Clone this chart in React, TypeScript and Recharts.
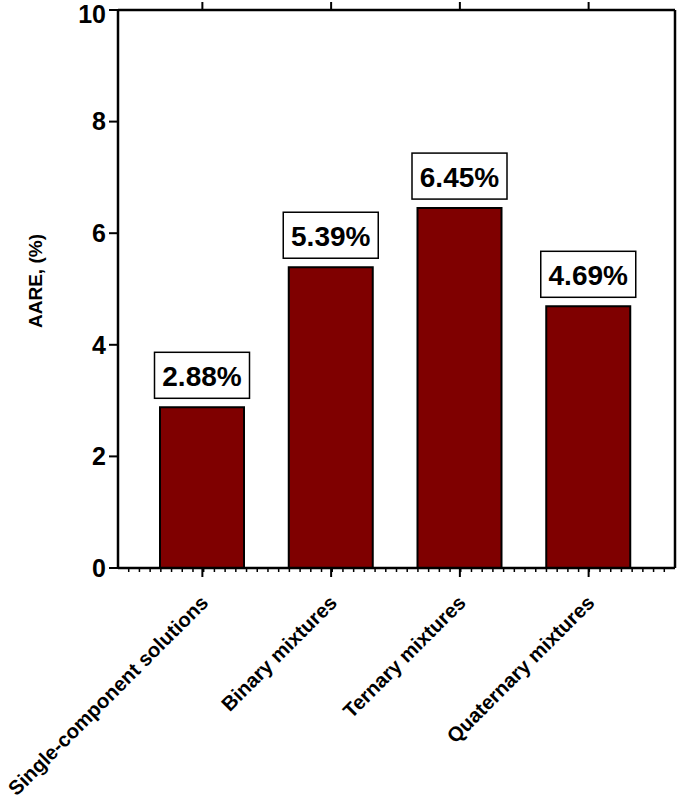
import React from "react";
import { BarChart, Bar, XAxis, YAxis, LabelList, Label } from "recharts";

const categories = [
  "Single-component solutions",
  "Binary mixtures",
  "Ternary mixtures",
  "Quaternary mixtures",
];
const aare = [2.88, 5.39, 6.45, 4.69];
const yTicks = [0, 2, 4, 6, 8, 10];
const rightTicks = [2, 4, 6, 8, 10];

const data = categories.map((name, i) => ({ name, aare: aare[i] }));

const FONT = '"Liberation Sans", Arial, Helvetica, sans-serif';
const W = 685;
const H = 802;
const PLOT_LEFT = 118;
const PLOT_RIGHT = 675;
const MINOR_STEP = (PLOT_RIGHT - PLOT_LEFT) / 52;

function CategoryTick(props: any) {
  const { x, y, payload, index } = props;
  const minors: React.ReactNode[] = [];
  if (index === 0) {
    // minor ticks run evenly along the whole bottom axis
    for (let px = PLOT_LEFT + MINOR_STEP; px < PLOT_RIGHT - 1; px += MINOR_STEP) {
      minors.push(
        <line key={px} x1={px - x} x2={px - x} y1={0} y2={4} stroke="#000" strokeWidth={1.5} />
      );
    }
  }
  return (
    <g transform={`translate(${x},${y})`}>
      {minors}
      <line x1={0} x2={0} y1={0} y2={9} stroke="#000" strokeWidth={2} />
      <text
        x={0}
        y={0}
        transform="translate(7,36) rotate(-45)"
        textAnchor="end"
        fontFamily={FONT}
        fontWeight="bold"
        fontSize={20.3}
        fill="#000"
      >
        {payload.value}
      </text>
    </g>
  );
}

function ValueBox(props: any) {
  const { x, y, width, value } = props;
  const cx = x + width / 2;
  const bw = 95;
  const bh = 46;
  const bottom = y - 9;
  return (
    <g>
      <rect
        x={cx - bw / 2}
        y={bottom - bh}
        width={bw}
        height={bh}
        fill="#fff"
        stroke="#000"
        strokeWidth={1.5}
      />
      <text
        x={cx}
        y={bottom - 12}
        textAnchor="middle"
        fontFamily={FONT}
        fontWeight="bold"
        fontSize={28}
        fill="#000"
      >
        {Number(value).toFixed(2)}%
      </text>
    </g>
  );
}

export default function App() {
  return (
    <div style={{ position: "absolute", left: 0, top: 0, background: "#fff" }}>
      <BarChart
        width={W}
        height={H}
        data={data}
        margin={{ top: 2, right: 0, bottom: 0, left: 0 }}
        barSize={84}
      >
        <XAxis
          dataKey="name"
          height={234}
          padding={{ left: 20, right: 22 }}
          axisLine={{ stroke: "#000", strokeWidth: 2.5 }}
          tickLine={false}
          tickSize={0}
          tickMargin={0}
          interval={0}
          tick={<CategoryTick />}
        />
        <XAxis
          xAxisId="top"
          orientation="top"
          dataKey="name"
          height={8}
          padding={{ left: 20, right: 22 }}
          axisLine={{ stroke: "#000", strokeWidth: 2.5 }}
          tickLine={{ stroke: "#000", strokeWidth: 2 }}
          tickSize={8}
          interval={0}
          tick={() => <g />}
        />
        <YAxis
          domain={[0, 10]}
          ticks={yTicks}
          width={PLOT_LEFT}
          axisLine={{ stroke: "#000", strokeWidth: 2.5 }}
          tickLine={{ stroke: "#000", strokeWidth: 2 }}
          tickSize={9}
          tickMargin={3}
          tick={{ fontFamily: FONT, fontWeight: "bold", fontSize: 25, fill: "#000" }}
        >
          <Label
            content={() => (
              <text
                x={0}
                y={0}
                transform="translate(42,281) rotate(-90)"
                textAnchor="middle"
                fontFamily={FONT}
                fontWeight="bold"
                fontSize={19}
                fill="#000"
              >
                AARE, (%)
              </text>
            )}
          />
        </YAxis>
        <YAxis
          yAxisId="right"
          orientation="right"
          domain={[0, 10]}
          ticks={rightTicks}
          width={W - PLOT_RIGHT}
          axisLine={{ stroke: "#000", strokeWidth: 2.5 }}
          tickLine={{ stroke: "#000", strokeWidth: 2 }}
          tickSize={8}
          tick={() => <g />}
        />
        <Bar
          dataKey="aare"
          fill="#7f0000"
          stroke="#000"
          strokeWidth={2}
          isAnimationActive={false}
        >
          <LabelList dataKey="aare" content={<ValueBox />} />
        </Bar>
      </BarChart>
    </div>
  );
}
